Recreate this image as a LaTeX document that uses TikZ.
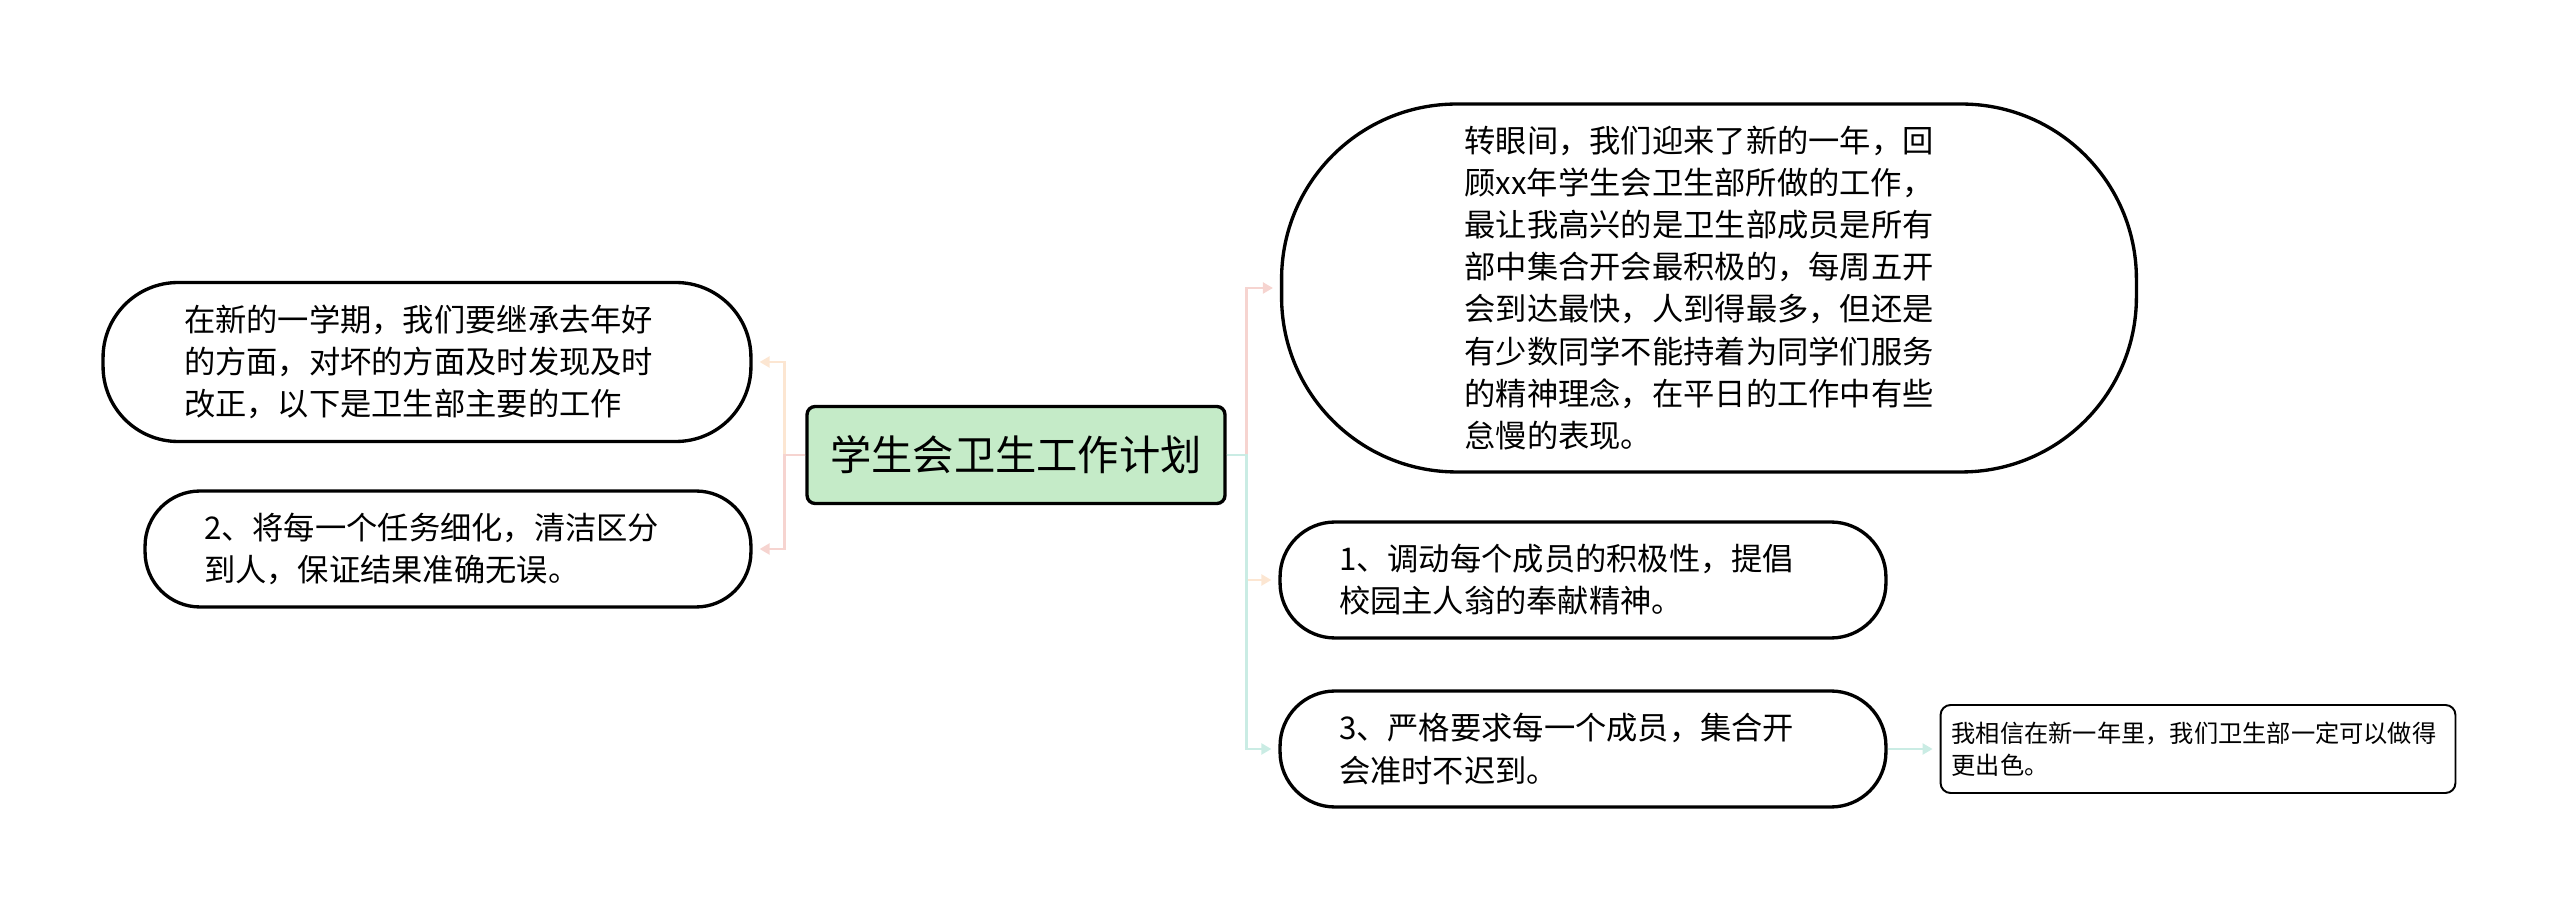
\documentclass[tikz,border=0pt]{standalone}
\usepackage{fontspec}
\setmainfont{Noto Sans CJK SC}
\usetikzlibrary{arrows.meta,positioning,calc}
\definecolor{cGreen}{HTML}{C5EBC8}
\definecolor{cPink}{HTML}{F6D4D0}
\definecolor{cPeach}{HTML}{FCE6D2}
\definecolor{cTeal}{HTML}{CAECE4}

\begin{document}
\begin{tikzpicture}[x=0.02cm,y=-0.02cm,>={Triangle[length=0.2cm,width=0.22cm]},
   blk/.style={draw,line width=1.9pt,align=left,inner ysep=0pt,font=\fontsize{17.8}{24}\selectfont},
   lnk/.style={->,line width=1.3pt,shorten >=0.14cm}]
  \useasboundingbox (0,0) rectangle (2560,911);
  \node[draw,line width=1.9pt,rounded corners=0.16cm,fill=cGreen,minimum width=8.36cm,minimum height=1.94cm,
        font=\fontsize{23.5}{28}\selectfont] (c) at (1016,455) {学生会卫生工作计划};
  % left side
  \node[blk,rounded corners=1.5cm,inner xsep=1.62cm,text width=9.72cm,minimum height=3.18cm] (l1) at (427,362)
     {在新的一学期，我们要继承去年好\\的方面，对坏的方面及时发现及时\\改正，以下是卫生部主要的工作};
  \node[blk,rounded corners=1.1cm,inner xsep=1.18cm,text width=9.76cm,minimum height=2.32cm] (l2) at (448,549)
     {2、将每一个任务细化，清洁区分\\到人，保证结果准确无误。};
  % right side
  \node[blk,rounded corners=3.5cm,inner xsep=3.66cm,text width=9.78cm,minimum height=7.36cm] (r1) at (1709,288)
     {转眼间，我们迎来了新的一年，回\\顾xx年学生会卫生部所做的工作，\\最让我高兴的是卫生部成员是所有\\部中集合开会最积极的，每周五开\\会到达最快，人到得最多，但还是\\有少数同学不能持着为同学们服务\\的精神理念，在平日的工作中有些\\怠慢的表现。};
  \node[blk,rounded corners=1.1cm,inner xsep=1.18cm,text width=9.76cm,minimum height=2.32cm] (r2) at (1583,580)
     {1、调动每个成员的积极性，提倡\\校园主人翁的奉献精神。};
  \node[blk,rounded corners=1.1cm,inner xsep=1.18cm,text width=9.76cm,minimum height=2.32cm] (r3) at (1583,749)
     {3、严格要求每一个成员，集合开\\会准时不迟到。};
  \node[draw,line width=1.1pt,rounded corners=0.2cm,align=left,inner xsep=0.22cm,inner ysep=0pt,text width=9.86cm,
        minimum height=1.76cm,font=\fontsize{13.8}{18.5}\selectfont] (r4) at (2198,749)
     {我相信在新一年里，我们卫生部一定可以做得\\更出色。};
  % connectors
  \draw[lnk,cPeach] (c.west) -- ++(-21,0) |- (l1.east);
  \draw[lnk,cPink] (c.west) -- ++(-21,0) |- (l2.east);
  \draw[lnk,cPink] (c.east) -- ++(20,0) |- (r1.west);
  \draw[lnk,cPeach] (c.east) -- ++(20,0) |- (r2.west);
  \draw[lnk,cTeal] (c.east) -- ++(20,0) |- (r3.west);
  \draw[lnk,cTeal] (r3.east) -- (r4.west);
\end{tikzpicture}
\end{document}
